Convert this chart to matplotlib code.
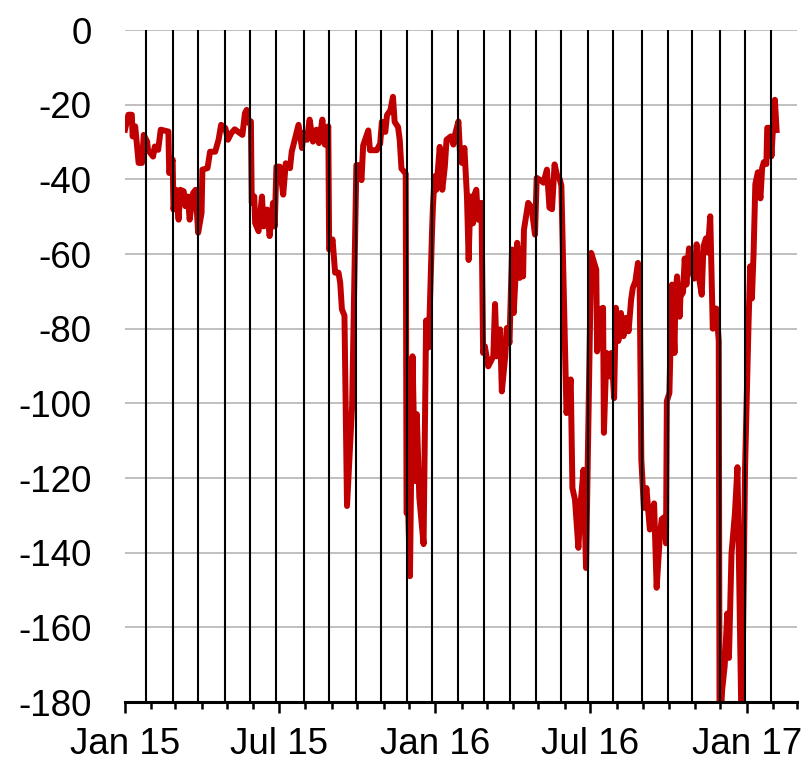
import matplotlib
matplotlib.use("Agg")
import matplotlib.pyplot as plt
import matplotlib.dates as mdates
import numpy as np
import pandas as pd

# ---- data ----
start_date = "2015-01-01"
day_offsets = [
    0, 4, 8, 9, 12, 16, 20, 22, 26, 27, 33, 35, 39, 42, 51, 52, 56, 57, 60, 63,
    65, 69, 71, 74, 76, 80, 83, 86, 90, 91, 97, 100, 106, 110, 113, 118, 121, 125, 129, 138,
    141, 143, 146, 148, 149, 152, 153, 157, 161, 163, 167, 170, 174, 176, 178, 182, 186, 189, 194, 196,
    204, 208, 210, 214, 217, 221, 225, 228, 232, 235, 239, 240, 244, 247, 251, 253, 255, 258, 261, 267,
    272, 275, 278, 280, 286, 288, 296, 300, 302, 306, 308, 312, 315, 317, 321, 323, 325, 330, 331, 333,
    335, 338, 341, 343, 346, 351, 354, 357, 361, 362, 364, 366, 370, 373, 376, 378, 383, 386, 388, 392,
    394, 396, 399, 402, 404, 406, 409, 410, 413, 415, 419, 421, 423, 427, 433, 435, 437, 441, 443, 447,
    449, 452, 455, 457, 461, 464, 466, 468, 469, 474, 478, 482, 484, 490, 492, 496, 499, 502, 505, 508,
    511, 513, 519, 524, 526, 529, 533, 536, 539, 542, 548, 554, 555, 558, 562, 563, 566, 570, 572, 575,
    577, 580, 583, 586, 589, 592, 595, 597, 600, 603, 605, 607, 610, 613, 617, 622, 625, 629, 631, 634,
    636, 637, 640, 643, 646, 647, 649, 652, 653, 656, 658, 660, 663, 666, 669, 672, 675, 678, 680, 683,
    685, 688, 691, 695, 698, 699, 702, 705, 708, 710, 713, 717, 720, 722, 725, 729, 733, 735, 737, 739,
    741, 744, 747, 749, 751, 754, 755, 758, 760, 762, 764, 766,
]
values = [
    -26.7, -22.7, -22.7, -28.5, -25.8, -35.6, -35.6, -28.1, -29.9, -32.1, -33.9, -31.2, -32.1, -26.7, -27.2, -38.3, -34.7, -48.1, -42.8, -50.8,
    -42.8, -43.2, -47.2, -44.6, -50.8, -43.7, -42.8, -54.3, -49.0, -37.4, -37.0, -32.6, -32.6, -29.4, -25.4, -26.3, -29.4, -27.6, -26.6, -28.1,
    -22.3, -21.4, -25.0, -24.5, -46.3, -44.6, -51.7, -53.9, -44.6, -52.6, -48.1, -55.2, -46.3, -52.6, -36.6, -36.6, -44.1, -35.7, -37.0, -32.6,
    -25.4, -31.6, -27.6, -29.4, -24.0, -29.9, -26.7, -30.3, -24.0, -30.7, -25.8, -58.8, -56.1, -65.0, -65.0, -67.7, -74.8, -76.5, -127.5, -100.6,
    -36.2, -36.2, -40.2, -30.9, -26.9, -32.2, -32.2, -30.4, -24.6, -27.3, -22.8, -21.5, -17.9, -24.6, -26.0, -29.5, -37.1, -38.5, -129.4, -129.4,
    -146.3, -87.4, -120.8, -102.9, -125.2, -137.7, -77.8, -85.0, -53.6, -47.3, -39.2, -42.8, -31.3, -42.8, -36.6, -29.4, -28.5, -30.7, -28.0, -24.5,
    -33.8, -35.6, -31.6, -44.6, -61.6, -44.6, -51.8, -44.6, -42.8, -50.8, -46.3, -86.5, -84.7, -90.1, -87.4, -73.4, -87.4, -80.2, -96.8, -87.4,
    -79.8, -83.8, -58.8, -75.8, -57.0, -66.4, -58.8, -66.0, -53.5, -46.3, -47.6, -54.8, -39.6, -40.5, -40.9, -37.4, -47.6, -48.0, -36.0, -39.0,
    -39.9, -41.7, -102.6, -93.6, -122.7, -125.8, -138.7, -125.8, -117.8, -144.1, -59.7, -64.2, -86.1, -74.9, -74.4, -107.9, -86.5, -92.8, -86.5, -98.6,
    -74.4, -83.3, -75.8, -82.0, -77.1, -80.7, -72.2, -69.1, -67.3, -62.4, -67.3, -115.1, -128.0, -122.7, -133.8, -126.8, -149.4, -134.8, -131.0, -130.5,
    -137.5, -99.4, -97.2, -68.2, -86.5, -71.4, -66.0, -76.8, -71.4, -70.3, -61.2, -68.2, -58.5, -63.9, -66.6, -57.4, -66.6, -70.9, -58.0, -55.8,
    -59.6, -49.9, -80.0, -74.6, -83.2, -190.0, -176.8, -170.3, -156.3, -168.2, -140.2, -129.5, -117.1, -145.6, -190.0, -116.6, -78.9, -63.3, -71.9, -59.6,
    -41.3, -38.1, -45.1, -37.0, -35.4, -35.9, -26.2, -26.2, -33.8, -25.2, -18.7, -26.8,
]
event_dates = [
    "2015-01-26", "2015-02-26", "2015-03-28", "2015-04-28", "2015-05-28", "2015-06-28",
    "2015-07-30", "2015-08-29", "2015-09-29", "2015-10-29", "2015-11-28", "2015-12-28",
    "2016-01-28", "2016-02-27", "2016-03-29", "2016-04-28", "2016-05-27", "2016-06-28",
    "2016-07-28", "2016-08-31", "2016-09-30", "2016-10-29", "2016-11-30", "2016-12-30",
    "2017-01-30",
]
y_ticks = [0, -20, -40, -60, -80, -100, -120, -140, -160, -180]
x_range = ("2015-01-01", "2017-03-01")

# ---- figure ----
plt.rcParams['font.family'] = ['Liberation Sans', 'DejaVu Sans']
fig = plt.figure(figsize=(8.09, 7.62), dpi=100)
ax = fig.add_axes([125 / 809, 1 - 702 / 762, (797 - 125) / 809, (702 - 30) / 762])

dates = pd.Timestamp(start_date) + pd.to_timedelta(day_offsets, unit="D")
ax.plot(dates, values, color="#C00000", linewidth=4.3, solid_joinstyle="round", zorder=3)

for d in event_dates:
    ax.axvline(pd.Timestamp(d), color="black", linewidth=1.5, zorder=4)

ax.set_ylim(-180, 0)
ax.set_xlim(pd.Timestamp(x_range[0]), pd.Timestamp(x_range[1]))
ax.set_yticks(y_ticks)
ax.set_yticklabels([str(t) for t in y_ticks])
ax.yaxis.grid(True, color="#c0c0c0", linewidth=1.4, zorder=0)
ax.set_axisbelow(True)

ax.xaxis.set_major_locator(mdates.MonthLocator(bymonth=[1, 7]))
ax.xaxis.set_major_formatter(mdates.DateFormatter("%b %y"))
ax.xaxis.set_minor_locator(mdates.MonthLocator())

for s in ["top", "right", "left"]:
    ax.spines[s].set_visible(False)
ax.spines["bottom"].set_linewidth(2.2)
ax.spines["bottom"].set_zorder(5)

ax.tick_params(axis="y", length=0, pad=24, labelsize=26.5)
ax.tick_params(axis="x", which="major", length=8, width=1.8, pad=10, labelsize=26.5)
ax.tick_params(axis="x", which="minor", length=5, width=1.8)

fig.savefig("out.png", dpi=100)
